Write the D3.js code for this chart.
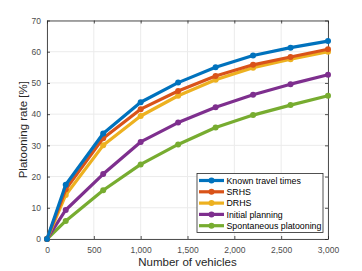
<!DOCTYPE html>
<html>
<head>
<meta charset="utf-8">
<script src="https://cdn.jsdelivr.net/npm/d3@7"></script>
<style>
  body { margin: 0; background: #fff; }
  text { font-family: "Liberation Sans", Arial, sans-serif; }
</style>
</head>
<body>
<svg id="chart" width="362" height="271"></svg>
<script>
// data
const vehicles = [0, 200, 600, 1000, 1400, 1800, 2200, 2600, 3000];
const seriesNames = ["Known travel times", "SRHS", "DRHS", "Initial planning", "Spontaneous platooning"];
const knownTimes = [0, 17.4, 33.8, 43.8, 50.1, 55.0, 58.8, 61.3, 63.4];
const srhs = [0, 15.9, 32.3, 41.6, 47.4, 52.2, 55.8, 58.3, 60.8];
const drhs = [0, 14.1, 30.0, 39.4, 45.9, 51.0, 54.9, 57.6, 60.0];
const initialPlanning = [0, 9.3, 20.8, 31.1, 37.3, 42.2, 46.2, 49.6, 52.6];
const spontaneous = [0, 5.8, 15.6, 23.9, 30.3, 35.7, 39.7, 42.9, 45.9];
const xTicks = [0, 500, 1000, 1500, 2000, 2500, 3000];
const yTicks = [0, 10, 20, 30, 40, 50, 60, 70];

const colors = ["#0072BD", "#D95319", "#EDB120", "#7E2F8E", "#77AC30"];
const allSeries = [knownTimes, srhs, drhs, initialPlanning, spontaneous];

const margin = {top: 20.5, right: 34, bottom: 32, left: 47};
const svg = d3.select("#chart");
const width = +svg.attr("width") - margin.left - margin.right;
const height = +svg.attr("height") - margin.top - margin.bottom;
const g = svg.append("g").attr("transform", "translate(" + margin.left + "," + margin.top + ")");

const xScale = d3.scaleLinear().domain([0, 3000]).range([0, width]);
const yScale = d3.scaleLinear().domain([0, 70]).range([height, 0]);

// grid
g.append("g").selectAll("line").data(xTicks).join("line")
    .attr("x1", d => xScale(d)).attr("x2", d => xScale(d))
    .attr("y1", 0).attr("y2", height)
    .attr("stroke", "#ebebeb").attr("stroke-width", 1);
g.append("g").selectAll("line").data(yTicks).join("line")
    .attr("x1", 0).attr("x2", width)
    .attr("y1", d => yScale(d)).attr("y2", d => yScale(d))
    .attr("stroke", "#ebebeb").attr("stroke-width", 1);

// axes, ticks inward like matlab
function styleAxis(sel) {
    sel.select(".domain").attr("stroke", "#262626").attr("stroke-width", 0.8);
    sel.selectAll(".tick line").attr("stroke", "#262626").attr("stroke-width", 0.8);
    sel.selectAll(".tick text").attr("fill", "#4d4d4d").attr("font-size", 8.5)
        .attr("font-family", "Liberation Sans, Arial, sans-serif");
}
g.append("g").attr("transform", "translate(0," + height + ")")
    .call(d3.axisBottom(xScale).tickValues(xTicks).tickSizeInner(-3).tickSizeOuter(0).tickPadding(8))
    .call(styleAxis);
g.append("g")
    .call(d3.axisLeft(yScale).tickValues(yTicks).tickSizeInner(-3).tickSizeOuter(0).tickPadding(6))
    .call(styleAxis);
g.append("g")
    .call(d3.axisTop(xScale).tickValues(xTicks).tickSizeInner(-3).tickSizeOuter(0).tickFormat(""))
    .call(styleAxis);
g.append("g").attr("transform", "translate(" + width + ",0)")
    .call(d3.axisRight(yScale).tickValues(yTicks).tickSizeInner(-3).tickSizeOuter(0).tickFormat(""))
    .call(styleAxis);

// lines + markers
const line = d3.line()
    .x((d, i) => xScale(vehicles[i]))
    .y(d => yScale(d));

for (let i = allSeries.length - 1; i >= 0; i--) {
    g.append("path")
        .datum(allSeries[i])
        .attr("fill", "none")
        .attr("stroke", colors[i])
        .attr("stroke-width", 3.2)
        .attr("stroke-linejoin", "round")
        .attr("d", line);
    g.append("g").selectAll("circle").data(allSeries[i]).join("circle")
        .attr("cx", (d, j) => xScale(vehicles[j]))
        .attr("cy", d => yScale(d))
        .attr("r", 3)
        .attr("fill", colors[i]);
}

// axis labels
svg.append("text")
    .attr("x", margin.left + width / 2).attr("y", 266)
    .attr("text-anchor", "middle").attr("font-size", 11.5).attr("fill", "#262626")
    .text("Number of vehicles");
svg.append("text")
    .attr("transform", "translate(27," + (margin.top + height / 2) + ") rotate(-90)")
    .attr("text-anchor", "middle").attr("font-size", 11.5).attr("fill", "#262626")
    .text("Platooning rate [%]");

// legend
const legend = svg.append("g").attr("transform", "translate(197,173.5)");
legend.append("rect")
    .attr("width", 126).attr("height", 59)
    .attr("fill", "#fff").attr("stroke", "#262626").attr("stroke-width", 0.8);
seriesNames.forEach(function (name, i) {
    let y = 7 + i * 11.3;
    legend.append("line")
        .attr("x1", 2).attr("x2", 27).attr("y1", y).attr("y2", y)
        .attr("stroke", colors[i]).attr("stroke-width", 3.2);
    legend.append("circle").attr("cx", 14.5).attr("cy", y).attr("r", 3).attr("fill", colors[i]);
    legend.append("text")
        .attr("x", 29.5).attr("y", y + 3.2)
        .attr("font-size", 8.8).attr("fill", "#000")
        .text(name);
});
</script>
</body>
</html>
